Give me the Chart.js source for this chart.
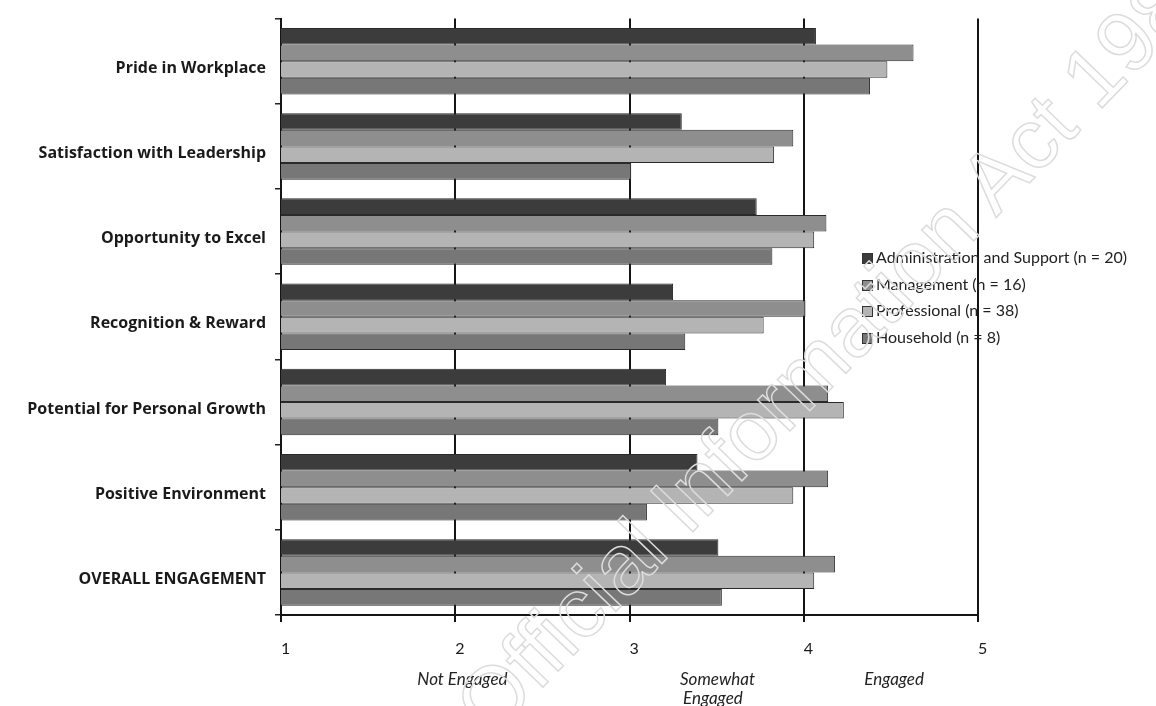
<!DOCTYPE html>
<html>
<head>
<meta charset="utf-8">
<script src="https://cdn.jsdelivr.net/npm/chart.js@4/dist/chart.umd.min.js"></script>
<style>
  body { margin: 0; background: #fff; }
  #wrap { position: relative; width: 1156px; height: 706px; overflow: hidden; }
  #legend { position: absolute; left: 862px; top: 244px; font: 16px Lato, sans-serif; color: #222; }
  #legend div { height: 26.7px; line-height: 26.7px; white-space: nowrap; }
  #legend span.sw { display: inline-block; width: 9px; height: 9px; border: 1px solid #333; margin-right: 3px; vertical-align: -1px; }
  #mark { position: absolute; left: 440px; top: 690px; transform-origin: 0 0; transform: rotate(-46deg);
          font: 85px "Liberation Sans", sans-serif; line-height: 85px; white-space: nowrap;
          color: transparent; -webkit-text-stroke: 1.5px #dcdcdc; pointer-events: none; }
</style>
</head>
<body>
<div id="wrap">
  <canvas id="myChart" width="1156" height="706"></canvas>
  <div id="legend"></div>
  <div id="mark">Official Information Act 1982</div>
</div>
<script>
// categories, top to bottom
const categories = ['Pride in Workplace', 'Satisfaction with Leadership', 'Opportunity to Excel',
  'Recognition & Reward', 'Potential for Personal Growth', 'Positive Environment', 'OVERALL ENGAGEMENT'];

const seriesNames = ['Administration and Support (n = 20)', 'Management (n = 16)',
  'Professional (n = 38)', 'Household (n = 8)'];

const adminValues = [4.07, 3.30, 3.73, 3.25, 3.21, 3.39, 3.51];
const managementValues = [4.63, 3.94, 4.13, 4.01, 4.14, 4.14, 4.18];
const professionalValues = [4.48, 3.83, 4.06, 3.77, 4.23, 3.94, 4.06];
const householdValues = [4.38, 3.01, 3.82, 3.32, 3.51, 3.10, 3.53];

const xTicks = [1, 2, 3, 4, 5];
const zoneLabels = ['Not Engaged', 'Somewhat', 'Engaged', 'Engaged'];

const barColors = ['#3c3c3c', '#8e8e8e', '#b4b4b4', '#777777'];
const allValues = [adminValues, managementValues, professionalValues, householdValues];

const datasets = allValues.map((vals, i) => ({
  label: seriesNames[i],
  data: vals,
  backgroundColor: barColors[i],
  borderColor: '#2a2a2a',
  borderWidth: 1,
  barPercentage: 1,
  categoryPercentage: 0.78
}));

// zone captions under the axis (value where the text ends, line)
const zonePlugin = {
  id: 'zones',
  afterDraw(chart) {
    const ctx = chart.ctx;
    const x = chart.scales.x;
    const spots = [[2.30, 680], [3.72, 680], [3.65, 699], [4.69, 680]];
    ctx.save();
    ctx.font = 'italic 17px Lato, sans-serif';
    ctx.fillStyle = '#222';
    ctx.textAlign = 'right';
    ctx.textBaseline = 'middle';
    zoneLabels.forEach((t, i) => {
      ctx.fillText(t, x.getPixelForValue(spots[i][0]), spots[i][1]);
    });
    ctx.restore();
  }
};

new Chart('myChart', {
  type: 'bar',
  data: { labels: categories, datasets: datasets },
  plugins: [zonePlugin],
  options: {
    indexAxis: 'y',
    responsive: false,
    animation: false,
    layout: { padding: { top: 9, right: 178, left: 0, bottom: 0 } },
    plugins: { legend: { display: false }, tooltip: { enabled: false } },
    scales: {
      x: {
        min: 1, max: 5,
        afterBuildTicks(scale) { scale.ticks = xTicks.map(v => ({ value: v })); },
        afterFit(scale) { scale.height = 91; },
        grid: { color: '#151515', lineWidth: 2, tickLength: 7 },
        border: { color: '#151515', width: 2 },
        ticks: { align: 'start', padding: 17, color: '#1a1a1a', font: { family: 'Lato', size: 16 } }
      },
      y: {
        afterFit(scale) { scale.width = 281; },
        grid: { drawOnChartArea: false, color: '#222', lineWidth: 1.5, tickLength: 6 },
        border: { color: '#151515', width: 2 },
        ticks: { padding: 9, labelOffset: 7, color: '#1a1a1a', font: { family: 'Open Sans', size: 16, weight: 'bold' } }
      }
    }
  }
});

// legend
const legend = document.getElementById('legend');
seriesNames.forEach((name, i) => {
  const row = document.createElement('div');
  row.innerHTML = '<span class="sw" style="background:' + barColors[i] + '"></span>' + name;
  legend.appendChild(row);
});
</script>
</body>
</html>
